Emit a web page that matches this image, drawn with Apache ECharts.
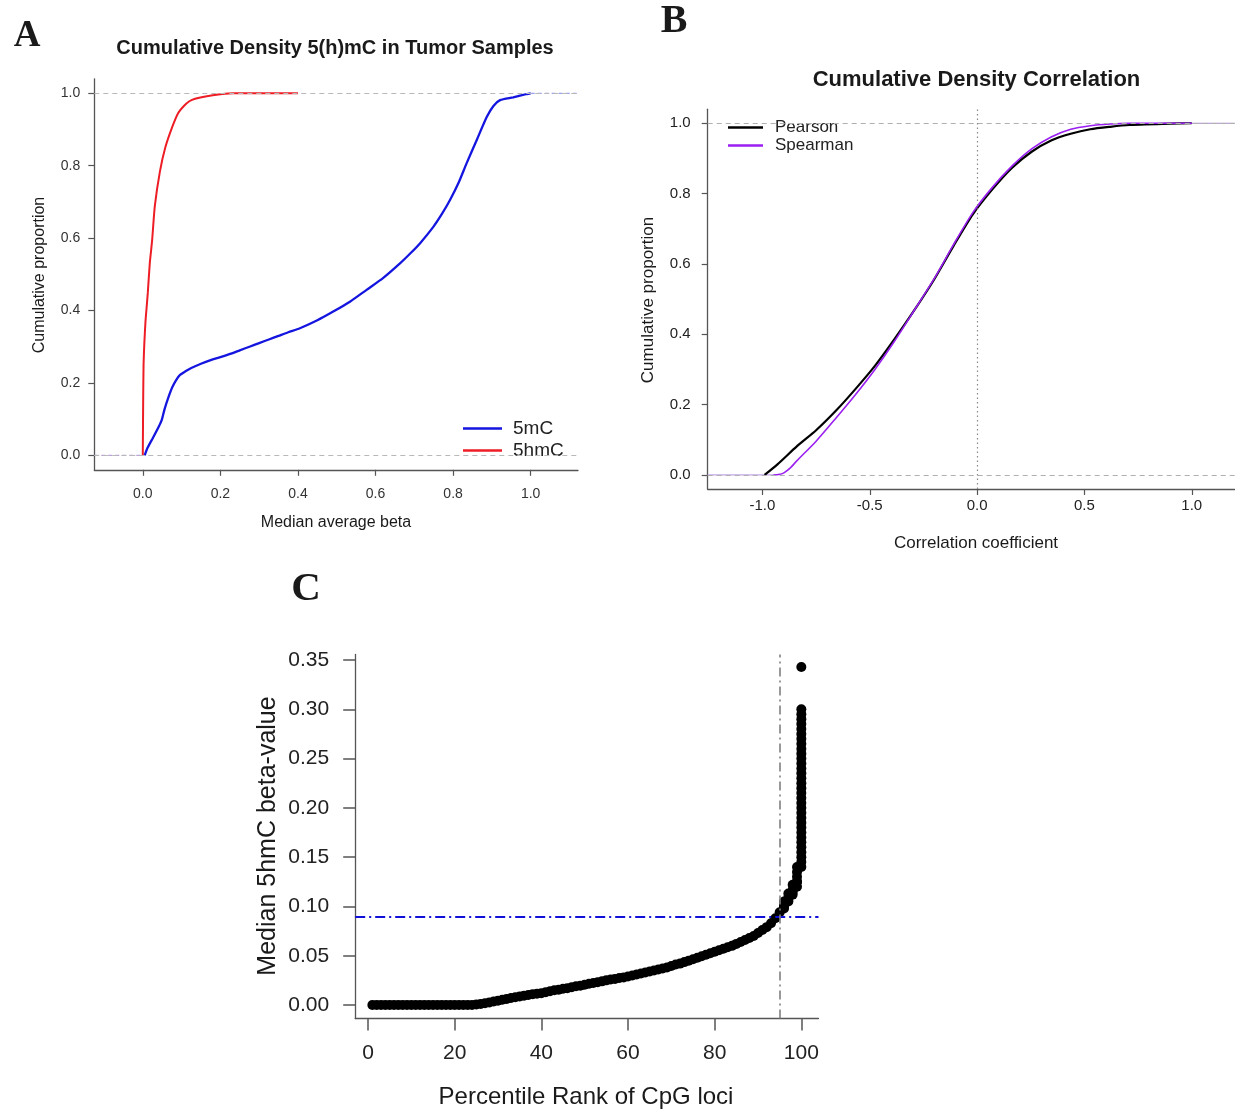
<!DOCTYPE html>
<html>
<head>
<meta charset="utf-8">
<script src="https://cdn.jsdelivr.net/npm/echarts@6/dist/echarts.min.js"></script>
<style>
html,body{margin:0;padding:0;background:#fff;}
#chart{width:1235px;height:1110px;}
</style>
</head>
<body>
<div id="chart"></div>
<script>
// ---------- Panel A: cumulative density of median average beta ----------
const a5mC_x = [0.005,0.012,0.027,0.041,0.049,0.056,0.066,0.076,0.086,0.096,0.11,0.125,0.15,0.175,0.2,0.225,0.25,0.275,0.3,0.325,0.35,0.375,0.405,0.45,0.491,0.535,0.577,0.62,0.663,0.69,0.715,0.749,0.772,0.792,0.815,0.835,0.861,0.887,0.904,0.921,0.955,0.99,1.0];
const a5mC_y = [0,0.02,0.05,0.079,0.098,0.127,0.16,0.188,0.208,0.222,0.232,0.241,0.253,0.263,0.271,0.28,0.29,0.3,0.31,0.32,0.33,0.34,0.351,0.373,0.397,0.425,0.457,0.49,0.53,0.558,0.586,0.631,0.668,0.705,0.755,0.807,0.871,0.935,0.965,0.981,0.989,0.998,1.0];
const a5hmC_x = [0.0,0.001,0.002,0.004,0.007,0.010,0.013,0.018,0.024,0.031,0.044,0.058,0.076,0.091,0.106,0.12,0.135,0.165,0.2,0.234,0.4];
const a5hmC_y = [0,0.15,0.25,0.31,0.37,0.41,0.45,0.53,0.593,0.688,0.783,0.85,0.907,0.945,0.965,0.978,0.985,0.992,0.997,1.0,1.0];
const aLeftTail_x = [-0.125,0.0];
const aLeftTail_y = [0,0];
const a5mCTail_x = [1.0,1.125];
const a5mCTail_y = [1,1];
const aTicksX = [0,0.2,0.4,0.6,0.8,1.0];
const aTicksY = [0,0.2,0.4,0.6,0.8,1.0];
const aRefLines = [0,1];

// ---------- Panel B: cumulative density of correlation ----------
const bPearson_x = [-0.99,-0.93,-0.84,-0.75,-0.657,-0.567,-0.476,-0.385,-0.294,-0.203,-0.111,-0.02,0.071,0.162,0.254,0.345,0.436,0.527,0.62,0.71,0.9,1.0];
const bPearson_y = [0,0.03,0.081,0.127,0.183,0.244,0.31,0.386,0.467,0.553,0.65,0.741,0.812,0.873,0.919,0.951,0.97,0.983,0.99,0.995,0.999,1.0];
const bSpearman_x = [-0.95,-0.925,-0.9,-0.87,-0.84,-0.75,-0.657,-0.567,-0.476,-0.385,-0.294,-0.2,-0.11,-0.02,0.07,0.162,0.254,0.345,0.436,0.527,0.62,0.71,1.0];
const bSpearman_y = [0,0.001,0.006,0.02,0.04,0.096,0.162,0.228,0.3,0.38,0.467,0.558,0.655,0.746,0.817,0.878,0.927,0.961,0.983,0.993,0.998,1.0,1.0];
const bLeftTail_x = [-1.255,-0.95];
const bLeftTail_y = [0,0];
const bRightTail_x = [1.0,1.2];
const bRightTail_y = [1,1];
const bTicksX = [-1.0,-0.5,0,0.5,1.0];
const bTicksY = [0,0.2,0.4,0.6,0.8,1.0];
const bRefLines = [0,1];
const bZeroLine = 0;

// ---------- Panel C: median 5hmC beta-value by percentile rank ----------
const cPct = [1,2,3,4,5,6,7,8,9,10,11,12,13,14,15,16,17,18,19,20,21,22,23,24,25,26,27,28,29,30,31,32,33,34,35,36,37,38,39,40,41,42,43,44,45,46,47,48,49,50,51,52,53,54,55,56,57,58,59,60,61,62,63,64,65,66,67,68,69,70,71,72,73,74,75,76,77,78,79,80,81,82,83,84,85,86,87,88,89,90,91,92,93,94,95,96,97,98,99,100];
const cMedian = [0,0,0,0,0,0,0,0,0,0,0,0,0,0,0,0,0,0,0,0,0,0,0,0,
  0.0005,0.001,0.0018,0.0026,0.0035,0.0044,0.0053,0.0062,0.0071,0.0079,0.0087,0.0095,0.0102,0.011,0.0115,0.012,
  0.013,0.014,0.015,0.0155,0.0165,0.017,0.018,0.019,0.0195,0.0205,0.0215,0.0223,0.023,0.024,0.025,0.0258,0.0265,0.0273,0.028,0.029,
  0.030,0.031,0.032,0.033,0.034,0.035,0.036,0.037,0.038,0.0395,0.041,0.042,0.0435,0.045,0.0465,0.048,0.0495,0.051,0.0525,0.054,
  0.0555,0.057,0.0585,0.060,0.062,0.064,0.066,0.068,0.070,0.073,0.076,0.079,0.083,0.088,0.094,0.100,0.107,0.115,0.125,0.140];
const cExtraPct = [96,96,96,97,97,97,98,98,98,99,99,99,99,99,
  100,100,100,100,100,100,100,100,100,100,100,100,100,100,100,100,100,100,100,100,100,100,100,100,100,100,100,100,100,100,100,100,100];
const cExtraVal = [0.098,0.102,0.105,0.105,0.109,0.113,0.112,0.117,0.122,0.120,0.125,0.130,0.135,0.140,
  0.145,0.150,0.155,0.160,0.165,0.170,0.175,0.180,0.185,0.190,0.195,0.200,0.205,0.210,0.215,0.220,0.225,0.230,0.235,0.240,0.245,0.250,0.255,0.260,0.265,0.270,0.275,0.280,0.285,0.290,0.295,0.300,0.343];
const cTicksX = [0,20,40,60,80,100];
const cTicksY = [0,0.05,0.10,0.15,0.20,0.25,0.30,0.35];
const cThresholdY = 0.094;
const cThresholdX = 95;

// ---------- helpers ----------
const zip = (xs, ys) => xs.map((x, i) => [x, ys[i]]);
const SANS = 'Liberation Sans, Arial, Helvetica, sans-serif';
const SERIF = 'Liberation Serif, Times New Roman, serif';
const AX = '#555';

function axis(opt) {
  return Object.assign({
    type: 'value',
    splitLine: {show: false},
    axisLine: {show: true, onZero: false, lineStyle: {color: AX, width: 1.3}},
    axisTick: {show: true, inside: false, length: 6, lineStyle: {color: AX, width: 1.2}},
  }, opt);
}

function txt(text, x, y, font, rot) {
  return {
    type: 'text', x: x, y: y, rotation: rot || 0, silent: true,
    style: {text: text, font: font, fill: '#1a1a1a', textAlign: 'center', textVerticalAlign: 'middle', align: 'center', verticalAlign: 'middle'}
  };
}

const chart = echarts.init(document.getElementById('chart'), null, {renderer: 'canvas'});

const option = {
  backgroundColor: '#fff',
  animation: false,
  grid: [
    {left: 94.3, top: 78.8, width: 483.7, height: 391, containLabel: false},
    {left: 707.7, top: 109.2, width: 527, height: 379.8, containLabel: false},
    {left: 355.2, top: 654.4, width: 463.3, height: 364.1, containLabel: false}
  ],
  xAxis: [
    axis({gridIndex: 0, min: -0.125, max: 1.122,
      axisTick: {show: true, length: 6, customValues: aTicksX, lineStyle: {color: AX, width: 1.2}},
      axisLabel: {customValues: aTicksX, formatter: v => v.toFixed(1), fontSize: 14, color: '#333', fontFamily: SANS, margin: 17}}),
    axis({gridIndex: 1, min: -1.255, max: 1.2,
      axisTick: {show: true, length: 6, customValues: bTicksX, lineStyle: {color: AX, width: 1.2}},
      axisLabel: {customValues: bTicksX, formatter: v => v.toFixed(1), fontSize: 15, color: '#222', fontFamily: SANS, margin: 9}}),
    axis({gridIndex: 2, min: -2.96, max: 103.96,
      axisTick: {show: true, length: 12, customValues: cTicksX, lineStyle: {color: AX, width: 1.5}},
      axisLabel: {customValues: cTicksX, formatter: v => String(Math.round(v)), fontSize: 21, color: '#222', fontFamily: SANS, margin: 24}})
  ],
  yAxis: [
    axis({gridIndex: 0, min: -0.04, max: 1.04,
      axisTick: {show: true, length: 6, customValues: aTicksY, lineStyle: {color: AX, width: 1.2}},
      axisLabel: {customValues: aTicksY, formatter: v => v.toFixed(1), fontSize: 14, color: '#333', fontFamily: SANS, margin: 14}}),
    axis({gridIndex: 1, min: -0.04, max: 1.04,
      axisTick: {show: true, length: 6, customValues: bTicksY, lineStyle: {color: AX, width: 1.2}},
      axisLabel: {customValues: bTicksY, formatter: v => v.toFixed(1), fontSize: 15, color: '#222', fontFamily: SANS, margin: 17}}),
    axis({gridIndex: 2, min: -0.0137, max: 0.3557,
      axisTick: {show: true, length: 12, customValues: cTicksY, lineStyle: {color: AX, width: 1.5}},
      axisLabel: {customValues: cTicksY, formatter: v => v.toFixed(2), fontSize: 21, color: '#222', fontFamily: SANS, margin: 26}})
  ],
  legend: [
    {data: ['5mC', '5hmC'], orient: 'vertical', left: 458, top: 414, icon: 'rect', itemWidth: 39, itemHeight: 2.5, itemGap: 3,
     selectedMode: false, textStyle: {fontSize: 19, fontFamily: SANS, color: '#222', padding: [0, 0, 0, 6]}},
    {data: ['Pearson', 'Spearman'], orient: 'vertical', left: 723, top: 114, icon: 'rect', itemWidth: 35, itemHeight: 2.5, itemGap: 1,
     selectedMode: false, textStyle: {fontSize: 17, fontFamily: SANS, color: '#222', padding: [0, 0, 0, 7]}}
  ],
  series: [
    // Panel A
    {type: 'line', name: 'tailA', xAxisIndex: 0, yAxisIndex: 0, data: zip(aLeftTail_x, aLeftTail_y), showSymbol: false, z: 1,
     lineStyle: {color: '#b9a3d9', width: 1.2, type: [4, 3]},
     markLine: {silent: true, symbol: 'none', label: {show: false}, animation: false,
       lineStyle: {color: '#b8b8b8', width: 1.1, type: [5, 4]}, data: aRefLines.map(v => ({yAxis: v}))}},
    {type: 'line', name: 'tailA2', xAxisIndex: 0, yAxisIndex: 0, data: zip(a5mCTail_x, a5mCTail_y), showSymbol: false, z: 1,
     lineStyle: {color: '#9a9ff0', width: 1.2, type: [4, 3]}},
    {type: 'line', name: '5mC', xAxisIndex: 0, yAxisIndex: 0, data: zip(a5mC_x, a5mC_y), showSymbol: false, z: 3,
     smooth: 0.25, color: '#1515e0', lineStyle: {color: '#1515e0', width: 2.3}, itemStyle: {color: '#1515e0'}},
    {type: 'line', name: '5hmC', xAxisIndex: 0, yAxisIndex: 0, data: zip(a5hmC_x, a5hmC_y), showSymbol: false, z: 3,
     smooth: 0.2, color: '#ee1c24', lineStyle: {color: '#ee1c24', width: 2.0}, itemStyle: {color: '#ee1c24'}},
    // Panel B
    {type: 'line', name: 'tailB', xAxisIndex: 1, yAxisIndex: 1, data: zip(bLeftTail_x, bLeftTail_y), showSymbol: false, z: 1,
     lineStyle: {color: '#c4a6e8', width: 1.2},
     markLine: {silent: true, symbol: 'none', label: {show: false}, animation: false,
       data: bRefLines.map(v => ({yAxis: v, lineStyle: {color: '#b0b0b0', width: 1.1, type: [5, 4]}}))
         .concat([{xAxis: bZeroLine, lineStyle: {color: '#888', width: 1.2, type: [1.5, 3]}}])}},
    {type: 'line', name: 'tailB2', xAxisIndex: 1, yAxisIndex: 1, data: zip(bRightTail_x, bRightTail_y), showSymbol: false, z: 1,
     lineStyle: {color: '#a88cc8', width: 1.2}},
    {type: 'line', name: 'Pearson', xAxisIndex: 1, yAxisIndex: 1, data: zip(bPearson_x, bPearson_y), showSymbol: false, z: 3,
     smooth: 0.25, color: '#000', lineStyle: {color: '#000', width: 2.2}, itemStyle: {color: '#000'}},
    {type: 'line', name: 'Spearman', xAxisIndex: 1, yAxisIndex: 1, data: zip(bSpearman_x, bSpearman_y), showSymbol: false, z: 4,
     smooth: 0.25, color: '#9a1ff0', lineStyle: {color: '#9a1ff0', width: 1.6}, itemStyle: {color: '#9a1ff0'}},
    // Panel C
    {type: 'scatter', name: 'cpg', xAxisIndex: 2, yAxisIndex: 2, z: 2,
     data: zip(cPct, cMedian).concat(zip(cExtraPct, cExtraVal)),
     symbol: 'circle', symbolSize: 10, itemStyle: {color: '#000', opacity: 1, borderWidth: 0}},
    {type: 'line', name: 'cref', xAxisIndex: 2, yAxisIndex: 2, data: [], z: 5, showSymbol: false,
     markLine: {silent: true, symbol: 'none', label: {show: false}, animation: false,
       data: [
         {yAxis: cThresholdY, lineStyle: {color: '#1010d8', width: 2, type: [10, 4, 2, 4]}},
         {xAxis: cThresholdX, lineStyle: {color: '#808080', width: 1.6, type: [9, 4, 2, 4]}}
       ]}}
  ],
  graphic: [
    txt('A', 27, 36, 'bold 37px ' + SERIF),
    txt('B', 674, 22, 'bold 40px ' + SERIF),
    txt('C', 306, 589, 'bold 41px ' + SERIF),
    txt('Cumulative Density 5(h)mC in Tumor Samples', 335, 48, 'bold 20px ' + SANS),
    txt('Median average beta', 336, 523, '16px ' + SANS),
    txt('Cumulative proportion', 40, 275, '16px ' + SANS, Math.PI / 2),
    txt('Cumulative Density Correlation', 976.5, 80, 'bold 22px ' + SANS),
    txt('Correlation coefficient', 976, 543, '17px ' + SANS),
    txt('Cumulative proportion', 648, 300, '17px ' + SANS, Math.PI / 2),
    txt('Percentile Rank of CpG loci', 586, 1097, '24px ' + SANS),
    txt('Median 5hmC beta-value', 268, 836, '25px ' + SANS, Math.PI / 2)
  ]
};
chart.setOption(option);
</script>
</body>
</html>
